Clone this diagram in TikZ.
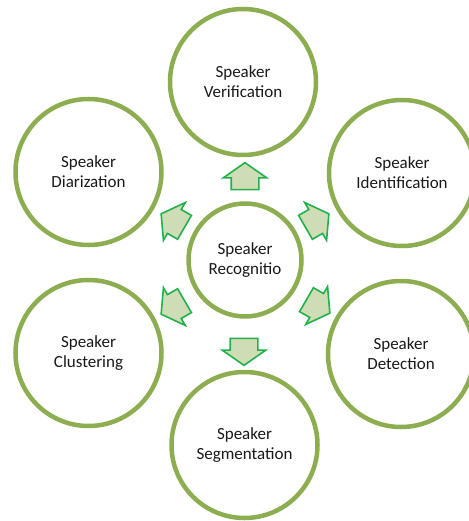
\documentclass[tikz,border=0pt]{standalone}
\usepackage{fontspec}
\setmainfont{Carlito}
\usetikzlibrary{shapes.arrows}
\definecolor{ringgreen}{HTML}{8CAD50}
\definecolor{arrowfill}{HTML}{CFDDB7}
\definecolor{arrowline}{HTML}{22B04B}
\begin{document}
\begin{tikzpicture}[
  x=1pt, y=-1pt,
  task/.style={circle, draw=ringgreen, line width=4.5pt, minimum size=146pt, inner sep=0pt, font=\fontsize{17}{20}\selectfont, align=center, text=black!90},
  hub/.style={task, minimum size=113pt},
  pointer/.style={single arrow, draw=arrowline, fill=arrowfill, line width=1.6pt, inner xsep=0pt, inner ysep=13pt, minimum height=27pt, single arrow head extend=8pt, single arrow tip angle=110},
]
  \useasboundingbox (0,0) rectangle (468,521);

  % Hub
  \node[hub] (rec) at (245,260) {Speaker\\Recognitio};

  % Surrounding tasks
  \node[task] (ver) at (243,82) {Speaker\\Verification};
  \node[task] (ide) at (402,173) {Speaker\\Identification};
  \node[task] (det) at (401,354) {Speaker\\Detection};
  \node[task] (seg) at (244.5,445) {Speaker\\Segmentation};
  \node[task] (clu) at (88.5,353) {Speaker\\Clustering};
  \node[task] (dia) at (88.5,172) {Speaker\\Diarization};

  % Block arrows pointing outwards
  \node[pointer, rotate=90] (toVer) at (245,181) {};
  \node[pointer, rotate=30] (toIde) at (313,223) {};
  \node[pointer, rotate=-30] (toDet) at (314,304) {};
  \node[pointer, rotate=-90] (toSeg) at (244,347) {};
  \node[pointer, rotate=-150] (toClu) at (177,305) {};
  \node[pointer, rotate=150] (toDia) at (177,223) {};
\end{tikzpicture}
\end{document}
